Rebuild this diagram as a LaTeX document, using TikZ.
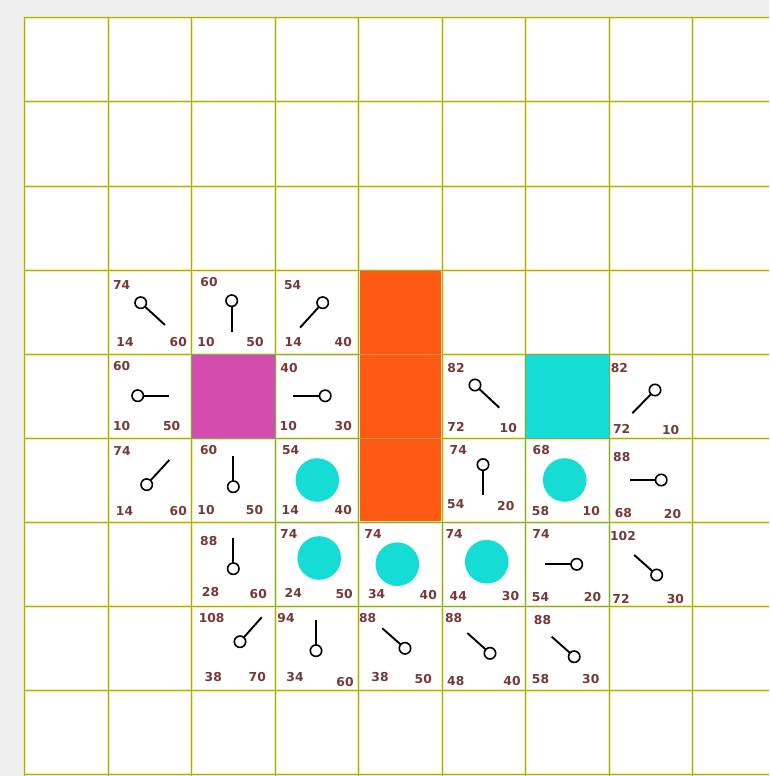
\documentclass[tikz,border=0pt]{standalone}
\usepackage{fontspec}
\setmainfont{DejaVu Sans}
\definecolor{bgc}{RGB}{240,240,240}
\definecolor{gridc}{RGB}{168,168,58}
\definecolor{gridhalo}{RGB}{240,240,150}
\definecolor{closedc}{RGB}{118,170,106}
\definecolor{closedhalo}{RGB}{190,215,170}
\definecolor{numc}{RGB}{118,56,56}
\definecolor{cyanc}{RGB}{22,220,214}
\definecolor{magc}{RGB}{212,76,174}
\definecolor{orc}{RGB}{255,90,20}
\definecolor{orline}{RGB}{255,140,60}
\tikzset{
  gridline/.style={draw=gridc, line width=1.2pt},
  gridglow/.style={draw=gridhalo, line width=3pt},
  closedbox/.style={draw=closedc, line width=1.2pt},
  closedglow/.style={draw=closedhalo, line width=3pt},
  num/.style={inner sep=0pt, text=numc, font=\bfseries\fontsize{12.3}{12.3}\selectfont},
  pinline/.style={draw=black, line width=1.9pt},
  pincirc/.style={draw=black, fill=white, line width=1.6pt},
  blob/.style={fill=cyanc, draw=none}
}
\newcommand{\lab}[4]{\node[num] (#1) at (#2,#3) {#4};}
\newcommand{\pinmark}[4]{\draw[pinline] (#3,#4) -- (#1,#2); \draw[pincirc] (#1,#2) circle (5.7);}
\begin{document}
\begin{tikzpicture}[x=1pt,y=-1pt]
\useasboundingbox (0,0) rectangle (769,776);
\fill[bgc] (0,0) rectangle (769,776);
\fill[white] (23.5,16.5) rectangle (769,776);
\begin{scope}
\clip (0,0) rectangle (769,776);
\foreach \i in {0,...,8} {
  \pgfmathsetmacro{\gx}{round(24+83.5*\i)+0.5}
  \draw[gridglow] (\gx,16) -- (\gx,776);}
\foreach \j in {0,...,9} {
  \pgfmathsetmacro{\gy}{round(17.3+84.1*\j)+0.5}
  \draw[gridglow] (23,\gy) -- (769,\gy);}
\foreach \i in {0,...,8} {
  \pgfmathsetmacro{\gx}{round(24+83.5*\i)+0.5}
  \draw[gridline] (\gx,16.9) -- (\gx,776);}
\foreach \j in {0,...,9} {
  \pgfmathsetmacro{\gy}{round(17.3+84.1*\j)+0.5}
  \draw[gridline] (23.9,\gy) -- (769,\gy);}
\end{scope}
% walls, start, target
\fill[orc] (359.5,270.6) rectangle (441,521);
\draw[orline, line width=0.8pt] (359.5,354.5) -- (441,354.5);
\draw[orline, line width=0.8pt] (359.5,438.5) -- (441,438.5);
\fill[magc] (192,355) rectangle (274.5,438);
\fill[cyanc] (526,355) rectangle (609,438);
% closed cells
\foreach \c/\r in {2/4,3/4,3/5,3/6,4/6,5/6,6/5,6/6,6/4} {
  \pgfmathsetmacro{\xa}{round(24+83.5*\c)+0.5}
  \pgfmathsetmacro{\xb}{round(24+83.5*(\c+1))+0.5}
  \pgfmathsetmacro{\ya}{round(17.3+84.1*\r)+0.5}
  \pgfmathsetmacro{\yb}{round(17.3+84.1*(\r+1))+0.5}
  \draw[closedbox] (\xa,\ya) rectangle (\xb,\yb);}
% path blobs
\fill[blob] (317.3,480) circle (21.8);
\fill[blob] (319.2,558) circle (21.8);
\fill[blob] (397.3,564.2) circle (21.8);
\fill[blob] (486.7,561.7) circle (21.8);
\fill[blob] (564.7,480) circle (21.8);
% pins (circle x,y ; line end x,y)
\pinmark{140.7}{302.7}{165}{325}
\pinmark{231.7}{300.7}{231.7}{331.7}
\pinmark{322.7}{302.7}{300}{327.7}
\pinmark{137.7}{395.7}{169.3}{395.7}
\pinmark{325.2}{395.8}{293.3}{395.8}
\pinmark{475}{385}{499.3}{407.7}
\pinmark{655}{390}{632.3}{413.3}
\pinmark{146.7}{484.6}{169.3}{460}
\pinmark{233.3}{486.7}{233.3}{455.8}
\pinmark{483}{464.6}{483}{495.3}
\pinmark{661.2}{480}{630}{480}
\pinmark{233.3}{568.7}{233.3}{537.5}
\pinmark{576.7}{564.3}{545}{564.3}
\pinmark{656.7}{575}{634.2}{555}
\pinmark{240}{641.7}{261.7}{617.3}
\pinmark{316}{650.7}{316}{620}
\pinmark{405}{648.3}{382.3}{628.3}
\pinmark{490}{653.3}{467.3}{633}
\pinmark{574.2}{656.7}{551.7}{636.7}
% numbers f (top-left), g (bottom-left), h (bottom-right)
\lab{f31}{121.7}{285}{74}\lab{g31}{125}{341.7}{14}\lab{h31}{178.3}{341.7}{60}
\lab{f32}{209}{281.7}{60}\lab{g32}{206}{341.7}{10}\lab{h32}{255}{341.7}{50}
\lab{f33}{292.7}{285}{54}\lab{g33}{293.3}{341.7}{14}\lab{h33}{343.3}{341.7}{40}
\lab{f41}{121.7}{366}{60}\lab{g41}{121.7}{425.7}{10}\lab{h41}{171.7}{425.7}{50}
\lab{f43}{289}{368.3}{40}\lab{g43}{288.3}{426.5}{10}\lab{h43}{343.3}{426.5}{30}
\lab{f45}{456}{368.3}{82}\lab{g45}{456}{426.7}{72}\lab{h45}{508.3}{428.3}{10}
\lab{f47}{619.3}{368.3}{82}\lab{g47}{621.7}{429}{72}\lab{h47}{670.7}{430}{10}
\lab{f51}{122}{451}{74}\lab{g51}{124.5}{511}{14}\lab{h51}{178.3}{511}{60}
\lab{f52}{208.7}{450.5}{60}\lab{g52}{206}{510.5}{10}\lab{h52}{254.5}{510.5}{50}
\lab{f53}{290.7}{450.3}{54}\lab{g53}{290.3}{510.3}{14}\lab{h53}{343.3}{510.3}{40}
\lab{f55}{458.3}{450.5}{74}\lab{g55}{455.8}{504.2}{54}\lab{h55}{505.8}{505.7}{20}
\lab{f56}{541.3}{450.5}{68}\lab{g56}{540.5}{511}{58}\lab{h56}{591.3}{511}{10}
\lab{f57}{621.8}{457.2}{88}\lab{g57}{623.3}{513}{68}\lab{h57}{672.5}{514.5}{20}
\lab{f62}{208.8}{540.8}{88}\lab{g62}{210.5}{592.2}{28}\lab{h62}{258.3}{594.2}{60}
\lab{f63}{288.8}{534.5}{74}\lab{g63}{293.3}{593.3}{24}\lab{h63}{344.2}{594.5}{50}
\lab{f64}{373}{534}{74}\lab{g64}{376.7}{593.7}{34}\lab{h64}{428.3}{595}{40}
\lab{f65}{454.2}{534.2}{74}\lab{g65}{458.3}{595.8}{44}\lab{h65}{510.5}{595.8}{30}
\lab{f66}{541}{534.2}{74}\lab{g66}{540.5}{597}{54}\lab{h66}{592.5}{597}{20}
\lab{f67}{623}{536.3}{102}\lab{g67}{621}{598.7}{72}\lab{h67}{675.3}{598.7}{30}
\lab{f72}{211.7}{618.3}{108}\lab{g72}{213.3}{676.7}{38}\lab{h72}{257.3}{676.7}{70}
\lab{f73}{286}{618.3}{94}\lab{g73}{295}{676.7}{34}\lab{h73}{345}{681.7}{60}
\lab{f74}{367.7}{618.3}{88}\lab{g74}{380}{676.7}{38}\lab{h74}{423.3}{679.3}{50}
\lab{f75}{453.7}{618.3}{88}\lab{g75}{455.8}{680.8}{48}\lab{h75}{512}{680.8}{40}
\lab{f76}{542.5}{620.5}{88}\lab{g76}{540.5}{678.7}{58}\lab{h76}{590.8}{678.7}{30}
\end{tikzpicture}
\end{document}
